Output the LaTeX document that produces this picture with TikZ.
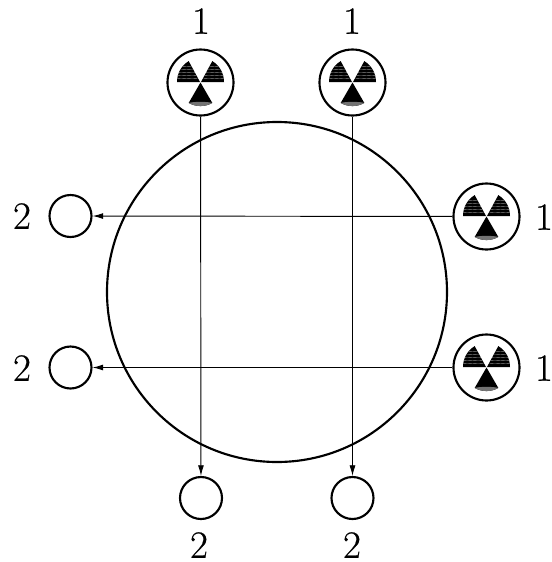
\documentclass[tikz,border=0pt]{standalone}
\usepackage{fontspec}
\setmainfont[FakeBold=0.5]{Latin Modern Roman}
\usetikzlibrary{arrows.meta}
\tikzset{
  x=0.75pt,y=-0.75pt,
  ring/.style={circle,draw=black,line width=1.6pt,fill=white,inner sep=0pt,minimum size=31.5pt},
  srcring/.style={circle,draw=black,line width=1.6pt,fill=white,inner sep=0pt,minimum size=49.5pt},
  bigring/.style={circle,draw=black,line width=1.6pt,inner sep=0pt,minimum size=255pt},
  lab/.style={inner sep=0pt,font=\fontsize{29}{31}\selectfont},
  ray/.style={draw=black,line width=0.7pt,-{Latex[length=8pt,width=4.5pt]}},
  stripe/.style={draw=black!45,line width=0.3pt}
}
\newcommand{\trefoil}[1]{%
  \begin{scope}[shift={(#1.center)}]
    \fill[black] (-0.5,-0.5) -- (-23.5,-0.5) .. controls (-23.5,-9.2) and (-19,-17.2) .. (-11.8,-21.4) -- cycle;
    \fill[black] (0.5,-0.5) -- (23.5,-0.5) .. controls (23.5,-9.2) and (19,-17.2) .. (11.8,-21.4) -- cycle;
    \fill[black] (0,0) -- (-11.8,20.4) .. controls (-4.4,24.6) and (4.4,24.6) .. (11.8,20.4) -- cycle;
    \fill[black!55] (-11.8,20.4) .. controls (-4.4,24.6) and (4.4,24.6) .. (11.8,20.4) .. controls (7,19) and (-7,19) .. cycle;
    \begin{scope}
      \clip (-0.5,-0.5) -- (-23.5,-0.5) .. controls (-23.5,-9.2) and (-19,-17.2) .. (-11.8,-21.4) -- cycle
            (0.5,-0.5) -- (23.5,-0.5) .. controls (23.5,-9.2) and (19,-17.2) .. (11.8,-21.4) -- cycle;
      \foreach \yy in {-4,-7,-10,-13,-16}{
        \draw[stripe] (-24,\yy) .. controls (-18,\yy-1) and (-10,\yy+1) .. (-3,\yy);
        \draw[stripe] (3,\yy) .. controls (10,\yy+1) and (18,\yy-1) .. (24,\yy);
      }
    \end{scope}
  \end{scope}}
\begin{document}
\begin{tikzpicture}
\useasboundingbox (0,0) rectangle (552,562);
\node[bigring] (big) at (277,292) {};
\node[srcring] (s1) at (200.5,82.5) {};
\node[srcring] (s2) at (352.5,82.5) {};
\node[srcring] (s3) at (486.5,216.5) {};
\node[srcring] (s4) at (486.5,367.5) {};
\node[ring] (t1) at (201,498) {};
\node[ring] (t2) at (352.5,498) {};
\node[ring] (t3) at (70.5,216) {};
\node[ring] (t4) at (70.5,367.5) {};
\path[ray] (s1) -- (t1);
\path[ray] (s2) -- (t2);
\path[ray] (s3) -- (t3);
\path[ray] (s4) -- (t4);
\trefoil{s1}\trefoil{s2}\trefoil{s3}\trefoil{s4}
\node[lab] (l1) at (201,21) {1};
\node[lab] (l2) at (352,21) {1};
\node[lab] (l3) at (544,217) {1};
\node[lab] (l4) at (544,368) {1};
\node[lab] (l5) at (22,216) {2};
\node[lab] (l6) at (22,368) {2};
\node[lab] (l7) at (199,545) {2};
\node[lab] (l8) at (352,545) {2};
\end{tikzpicture}
\end{document}
